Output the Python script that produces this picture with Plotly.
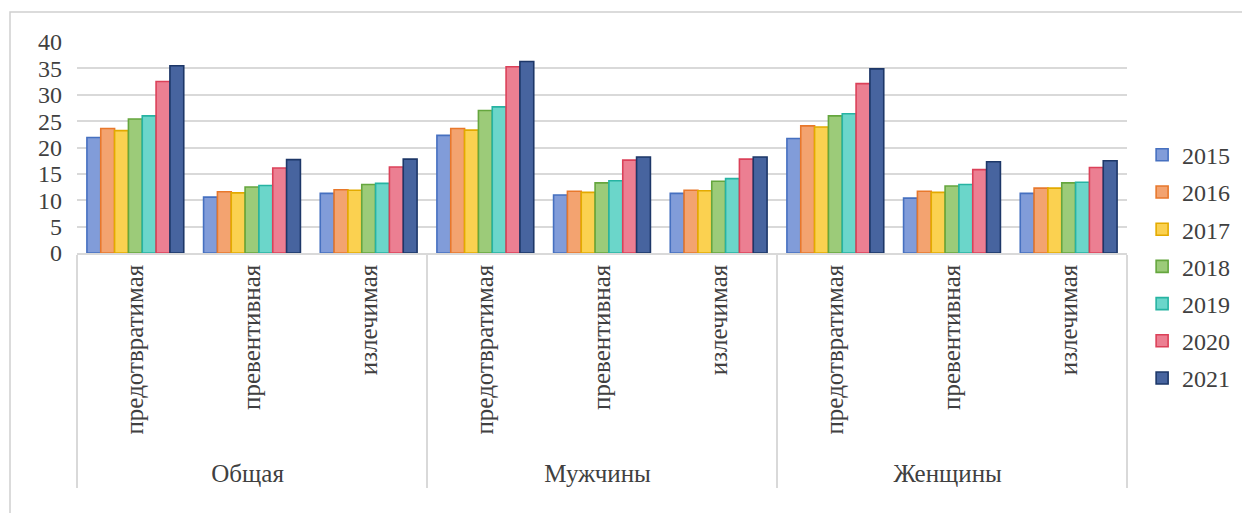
import plotly.graph_objects as go

# Grouped categories: outer group (population) and inner group (type of mortality)
groups = ["Общая"] * 3 + ["Мужчины"] * 3 + ["Женщины"] * 3
kinds = ["предотвратимая", "превентивная", "излечимая"] * 3

years = ["2015", "2016", "2017", "2018", "2019", "2020", "2021"]

v2015 = [21.9, 10.6, 11.3, 22.3, 11.0, 11.3, 21.7, 10.4, 11.3]
v2016 = [23.6, 11.6, 12.0, 23.6, 11.7, 11.9, 24.1, 11.7, 12.3]
v2017 = [23.2, 11.4, 11.9, 23.3, 11.5, 11.8, 23.9, 11.5, 12.3]
v2018 = [25.4, 12.5, 13.0, 27.0, 13.3, 13.6, 26.0, 12.7, 13.3]
v2019 = [26.0, 12.8, 13.2, 27.7, 13.7, 14.1, 26.4, 13.0, 13.4]
v2020 = [32.5, 16.1, 16.3, 35.3, 17.6, 17.8, 32.1, 15.8, 16.2]
v2021 = [35.5, 17.7, 17.8, 36.3, 18.2, 18.2, 34.9, 17.3, 17.5]

values = [v2015, v2016, v2017, v2018, v2019, v2020, v2021]

fills = ["#819cd9", "#f3a370", "#fbd150", "#9ccb79", "#6bd6ca", "#ec7f92", "#47649f"]
edges = ["#4670c0", "#e8782c", "#e3aa00", "#65a63e", "#27b3a2", "#db4159", "#1d3768"]

W, H = 1242, 513
ML, MR, MT, MB = 77, 115, 42, 260

fig = go.Figure()
for i, yr in enumerate(years):
    fig.add_trace(go.Bar(
        x=[groups, kinds],
        y=values[i],
        name=yr,
        legendgroup=yr,
        marker=dict(color=fills[i], line=dict(color=edges[i], width=1.6)),
    ))

serif = "Liberation Serif, Times New Roman, serif"

fig.update_layout(
    width=W, height=H,
    margin=dict(l=ML, r=MR, t=MT, b=MB, autoexpand=False),
    paper_bgcolor="white",
    plot_bgcolor="white",
    barmode="group",
    bargap=0.17,
    bargroupgap=0,
    font=dict(family=serif, size=24, color="#404040"),
    showlegend=True,
    legend=dict(
        x=1.0144, xanchor="left",
        y=-0.065, yanchor="middle",
        font=dict(family=serif, size=24, color="#404040"),
        traceorder="grouped",
        tracegroupgap=3,
        itemwidth=30,
        maxheight=480,
        bgcolor="rgba(0,0,0,0)",
    ),
    xaxis=dict(
        type="multicategory",
        tickangle=-90,
        showline=True,
        linecolor="#d9d9d9",
        linewidth=1.5,
        ticks="",
        showgrid=False,
        showdividers=True,
        dividercolor="#d9d9d9",
        dividerwidth=1.5,
        tickfont=dict(family=serif, size=25, color="#404040"),
        automargin=False,
    ),
    yaxis=dict(
        range=[0, 40],
        dtick=5,
        showgrid=True,
        gridcolor="#d9d9d9",
        gridwidth=1.5,
        zeroline=False,
        showline=False,
        ticks="",
        ticklabelstandoff=14,
        tickfont=dict(family=serif, size=24, color="#404040"),
        automargin=False,
    ),
)

# outer frame of the chart area (left and top edges visible)
pw, ph = W - ML - MR, H - MT - MB
fig.add_shape(
    type="rect", xref="paper", yref="paper",
    x0=(10 - ML) / pw, x1=(W + 20 - ML) / pw,
    y0=-(H + 20 - (H - MB)) / ph, y1=1 + (MT - 12) / ph,
    line=dict(color="#d0d0d0", width=1.5),
    fillcolor="rgba(0,0,0,0)",
    layer="below",
)

fig.write_html("out.html")
